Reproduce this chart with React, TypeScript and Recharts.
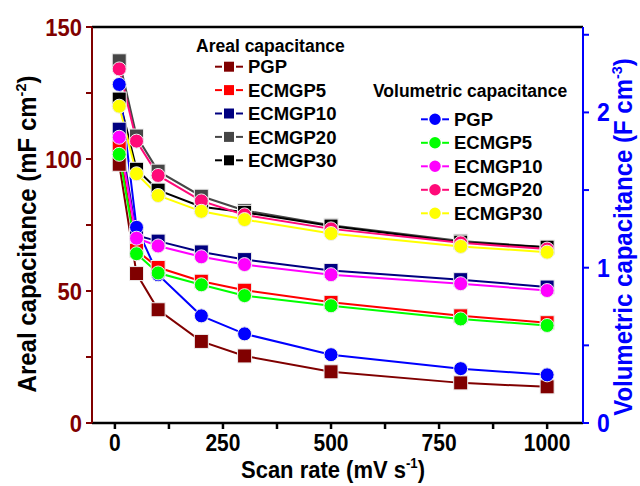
import { Line, LineChart, ReferenceLine, XAxis, YAxis } from "recharts";

// scan rates (mV s-1)
const SCAN_RATES = [10, 50, 100, 200, 300, 500, 800, 1000];
const SAMPLES = ["PGP", "ECMGP5", "ECMGP10", "ECMGP20", "ECMGP30"];

// areal capacitance, mF cm-2 (squares, left axis)
const AREAL_PGP = [98, 56.6, 42.9, 30.9, 25.4, 19.4, 15.2, 13.7];
const AREAL_ECMGP5 = [104.4, 65.4, 58.9, 53.7, 50.3, 45.7, 40.6, 38];
const AREAL_ECMGP10 = [111.3, 71, 68.9, 64.8, 61.9, 57.8, 54.3, 51.5];
const AREAL_ECMGP20 = [137.2, 108.7, 95.4, 85.9, 80.5, 74.9, 68.9, 66.6];
const AREAL_ECMGP30 = [122.7, 96.1, 88.2, 81.9, 79.8, 74.6, 68.5, 66.6];

// volumetric capacitance, F cm-3 (circles, right axis)
const VOL_PGP = [2.18, 1.26, 0.955, 0.69, 0.574, 0.44, 0.35, 0.31];
const VOL_ECMGP5 = [1.73, 1.09, 0.966, 0.89, 0.82, 0.755, 0.67, 0.628];
const VOL_ECMGP10 = [1.84, 1.19, 1.14, 1.07, 1.02, 0.955, 0.897, 0.853];
const VOL_ECMGP20 = [2.28, 1.815, 1.594, 1.43, 1.34, 1.25, 1.16, 1.12];
const VOL_ECMGP30 = [2.04, 1.605, 1.465, 1.363, 1.31, 1.22, 1.137, 1.1];

const AREAL = [AREAL_PGP, AREAL_ECMGP5, AREAL_ECMGP10, AREAL_ECMGP20, AREAL_ECMGP30];
const VOL = [VOL_PGP, VOL_ECMGP5, VOL_ECMGP10, VOL_ECMGP20, VOL_ECMGP30];

const AREAL_COLORS = ["#800000", "#ff0000", "#000080", "#464646", "#000000"];
const VOL_COLORS = ["#0000ff", "#00ff00", "#ff00ff", "#ff0a78", "#ffff00"];

const X_TICKS = [0, 125, 250, 375, 500, 625, 750, 875, 1000];
const LEFT_TICKS = [0, 25, 50, 75, 100, 125, 150];
const RIGHT_TICKS = [0, 0.5, 1, 1.5, 2, 2.5];

const FONT = "'Liberation Sans', Arial, sans-serif";

const rows = SCAN_RATES.map((rate, i) => {
  const row: Record<string, number> = { rate };
  SAMPLES.forEach((_, s) => {
    row[`a${s}`] = AREAL[s][i];
    row[`v${s}`] = VOL[s][i];
  });
  return row;
});

const squareDot = (color: string) => (props: any) => {
  const { cx, cy, index } = props;
  return (
    <rect
      key={`sq-${color}-${index}`}
      x={cx - 7}
      y={cy - 7}
      width={14}
      height={14}
      fill={color}
      stroke="#eee"
      strokeWidth={1}
    />
  );
};

const circleDot = (color: string) => (props: any) => {
  const { cx, cy, index } = props;
  return (
    <circle key={`ci-${color}-${index}`} cx={cx} cy={cy} r={7} fill={color} stroke="#eee" strokeWidth={1} />
  );
};

// the original's lettering is a bit taller than plain Arial, so stretch it vertically
const tallTick =
  (fill: string, size: number, show: (v: number) => boolean, side: "bottom" | "left" | "right") =>
  (props: any) => {
    const { x, y, payload } = props;
    if (!show(payload.value)) return <g />;
    const anchor = side === "bottom" ? "middle" : side === "left" ? "end" : "start";
    return (
      <text
        transform={`translate(${x},${y}) scale(1,1.1)`}
        textAnchor={anchor}
        dy={side === "bottom" ? "0.71em" : "0.355em"}
        fill={fill}
        fontSize={size}
        fontWeight="bold"
        fontFamily={FONT}
      >
        {payload.value}
      </text>
    );
  };

function AxisTitle(p: { x: number; y: number; fill: string; size: number; main: string; sup: string; rotate?: boolean }) {
  const rot = p.rotate ? " rotate(-90)" : "";
  return (
    <text
      transform={`translate(${p.x},${p.y})${rot} scale(1,1.08)`}
      textAnchor="middle"
      fill={p.fill}
      fontSize={p.size}
      fontWeight="bold"
      fontFamily={FONT}
    >
      {p.main}
      <tspan dy={-9} fontSize={p.size * 0.6}>
        {p.sup}
      </tspan>
      <tspan dy={9}>)</tspan>
    </text>
  );
}

function LegendBlock(p: {
  title: string;
  titleX: number;
  titleY: number;
  lineX: number;
  rowY: number;
  step: number;
  colors: string[];
  square: boolean;
}) {
  return (
    <g fontFamily={FONT} fontWeight="bold">
      <text x={p.titleX} y={p.titleY} fontSize={17.5} dy="0.36em" fill="#000">
        {p.title}
      </text>
      {SAMPLES.map((name, i) => {
        const y = p.rowY + i * p.step;
        const c = p.colors[i];
        const mx = p.lineX + 14;
        return (
          <g key={name}>
            <line x1={p.lineX} x2={p.lineX + 28} y1={y} y2={y} stroke={c} strokeWidth={2} />
            {p.square ? (
              <rect x={mx - 6} y={y - 6} width={12} height={12} fill={c} stroke="#fff" strokeWidth={2} />
            ) : (
              <circle cx={mx} cy={y} r={6.5} fill={c} stroke="#fff" strokeWidth={1.5} />
            )}
            <text x={p.lineX + 33} y={y} fontSize={18.5} dy="0.36em" fill="#000">
              {name}
            </text>
          </g>
        );
      })}
    </g>
  );
}

export default function App() {
  return (
    <div style={{ position: "absolute", left: 0, top: 0, width: 640, height: 486, background: "#fff" }}>
      <LineChart width={640} height={486} data={rows} margin={{ top: 27, right: 0, bottom: 0, left: 0 }}>
        <XAxis
          dataKey="rate"
          type="number"
          domain={[-53, 1083]}
          ticks={X_TICKS}
          height={63}
          stroke="#000"
          strokeWidth={2.5}
          tickSize={6}
          tickMargin={6}
          tick={tallTick("#000", 21, (v) => v % 250 === 0, "bottom")}
          label={{
            content: () => <AxisTitle x={333} y={478} fill="#000" size={22} main="Scan rate (mV s" sup="-1" />,
          }}
        />
        <YAxis
          yAxisId="areal"
          domain={[0, 150]}
          ticks={LEFT_TICKS}
          width={92}
          stroke="#800000"
          strokeWidth={2}
          tickSize={6}
          tickMargin={4}
          tick={tallTick("#800000", 22, (v) => v % 50 === 0, "left")}
          label={{
            content: () => (
              <AxisTitle x={36} y={234} rotate fill="#000" size={24} main="Areal capacitance (mF cm" sup="-2" />
            ),
          }}
        />
        <YAxis
          yAxisId="vol"
          orientation="right"
          domain={[0, 2.55]}
          ticks={RIGHT_TICKS}
          width={57}
          stroke="#0000ff"
          strokeWidth={2}
          tickSize={6}
          tickMargin={8}
          tick={tallTick("#0000ff", 23, (v) => Number.isInteger(v), "right")}
          label={{
            content: () => (
              <AxisTitle
                x={632}
                y={237}
                rotate
                fill="#0000ff"
                size={24}
                main="Volumetric capacitance (F cm"
                sup="-3"
              />
            ),
          }}
        />
        <ReferenceLine yAxisId="areal" y={150} stroke="#000" strokeWidth={2.5} />
        {SAMPLES.map((name, s) => (
          <Line
            key={`a-${name}`}
            yAxisId="areal"
            dataKey={`a${s}`}
            stroke={AREAL_COLORS[s]}
            strokeWidth={2}
            dot={squareDot(AREAL_COLORS[s])}
            isAnimationActive={false}
          />
        ))}
        {SAMPLES.map((name, s) => (
          <Line
            key={`v-${name}`}
            yAxisId="vol"
            dataKey={`v${s}`}
            stroke={VOL_COLORS[s]}
            strokeWidth={2}
            dot={circleDot(VOL_COLORS[s])}
            isAnimationActive={false}
          />
        ))}
      </LineChart>
      <svg width={640} height={486} style={{ position: "absolute", left: 0, top: 0, pointerEvents: "none" }}>
        <LegendBlock
          title="Areal capacitance"
          titleX={196}
          titleY={45.7}
          lineX={215}
          rowY={66.7}
          step={23.4}
          colors={AREAL_COLORS}
          square
        />
        <LegendBlock
          title="Volumetric capacitance"
          titleX={373}
          titleY={90.7}
          lineX={421}
          rowY={119.3}
          step={23.5}
          colors={VOL_COLORS}
          square={false}
        />
      </svg>
    </div>
  );
}
